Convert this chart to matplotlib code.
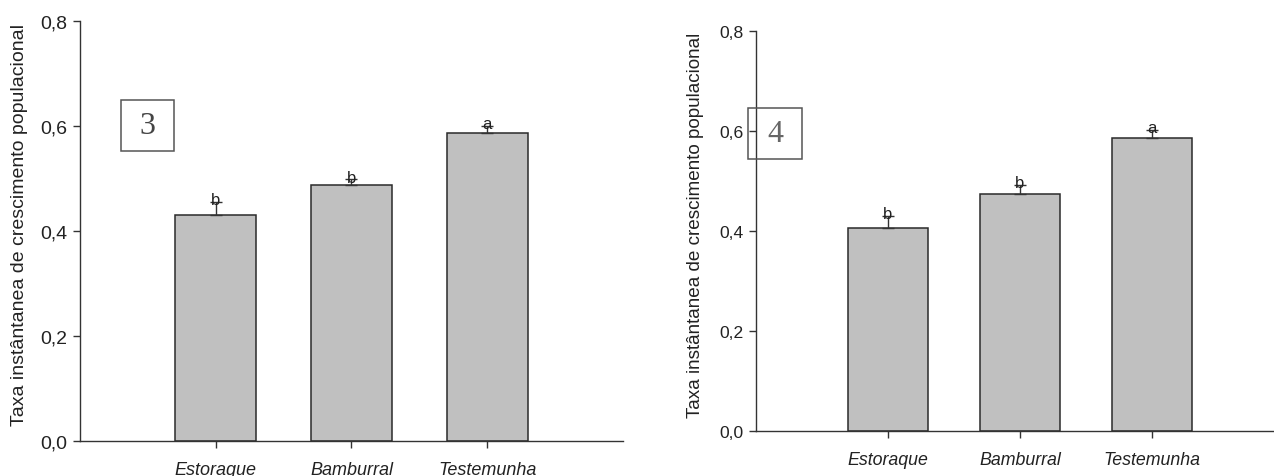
import matplotlib
matplotlib.use("Agg")
import matplotlib.pyplot as plt
from matplotlib.patches import Rectangle

plt.rcParams['font.family'] = ['Liberation Sans', 'DejaVu Sans']

# Grupos e valores médios (taxa instantânea de crescimento)
grupos = ['Estoraque', 'Bamburral', 'Testemunha']
media_3 = [0.431, 0.487, 0.586]
erro_3 = [0.025, 0.011, 0.014]
media_4 = [0.406, 0.474, 0.585]
erro_4 = [0.023, 0.018, 0.016]
letras = ['b', 'b', 'a']
yticks = [0.0, 0.2, 0.4, 0.6, 0.8]
ytick_labels = ['0,0', '0,2', '0,4', '0,6', '0,8']
ylabel = 'Taxa instântanea de crescimento populacional'

fig = plt.figure(figsize=(12.74, 4.77), dpi=100)


def painel(rect, medias, erros, numero, caixa, fs_tick, fs_x, num_color, ylab_x, fs_lab):
    ax = fig.add_axes(rect)
    x = [1, 2, 3]
    ax.bar(x, medias, width=0.6, color='#c0c0c0', edgecolor='#2a2a2a', linewidth=1.1, zorder=2)
    ax.errorbar(x, medias, yerr=[[0] * 3, erros], fmt='none', ecolor='#333333',
                elinewidth=1, capsize=4.5, capthick=1, zorder=3)
    for xi, m, e, l in zip(x, medias, erros, letras):
        ax.text(xi, m + e - 0.004, l, ha='center', va='baseline', fontsize=12,
                color='#222222', zorder=4)
    ax.set_xlim(0, 4)
    ax.set_ylim(0, 0.8)
    ax.set_yticks(yticks)
    ax.set_yticklabels(ytick_labels, fontsize=fs_tick, color='#222222')
    ax.set_xticks(x)
    ax.set_xticklabels(grupos, fontsize=fs_x, style='italic', color='#222222')
    ax.tick_params(axis='both', direction='out', length=5, width=1, color='#333333')
    ax.tick_params(axis='x', pad=9)
    ax.tick_params(axis='y', pad=4)
    for s in ['top', 'right']:
        ax.spines[s].set_visible(False)
    for s in ['left', 'bottom']:
        ax.spines[s].set_color('#333333')
        ax.spines[s].set_linewidth(1)
    # caixa com o número do gráfico
    x0, y0, w, h = caixa
    ax.add_patch(Rectangle((x0, y0), w, h, fill=False, edgecolor='#555555',
                           linewidth=1.1, clip_on=False, zorder=5))
    ax.text(x0 + w / 2, y0 + h / 2, numero, ha='center', va='center',
            family='Liberation Serif', fontsize=23, color=num_color, zorder=6)
    fig.text(ylab_x, 0.528, ylabel, rotation=90, ha='center', va='center',
             fontsize=fs_lab, color='#222222')
    return ax


painel([0.0628, 0.0727, 0.4262, 0.8818], media_3, erro_3, '3',
       (0.30, 0.552, 0.39, 0.097), 14, 13, '#444444', 20 / 1274, 14)
painel([0.5934, 0.0937, 0.4144, 0.8398], media_4, erro_4, '4',
       (-0.058, 0.544, 0.404, 0.102), 12.6, 12.8, '#666666', 696 / 1274, 13.6)

fig.savefig('out.png', dpi=100)
